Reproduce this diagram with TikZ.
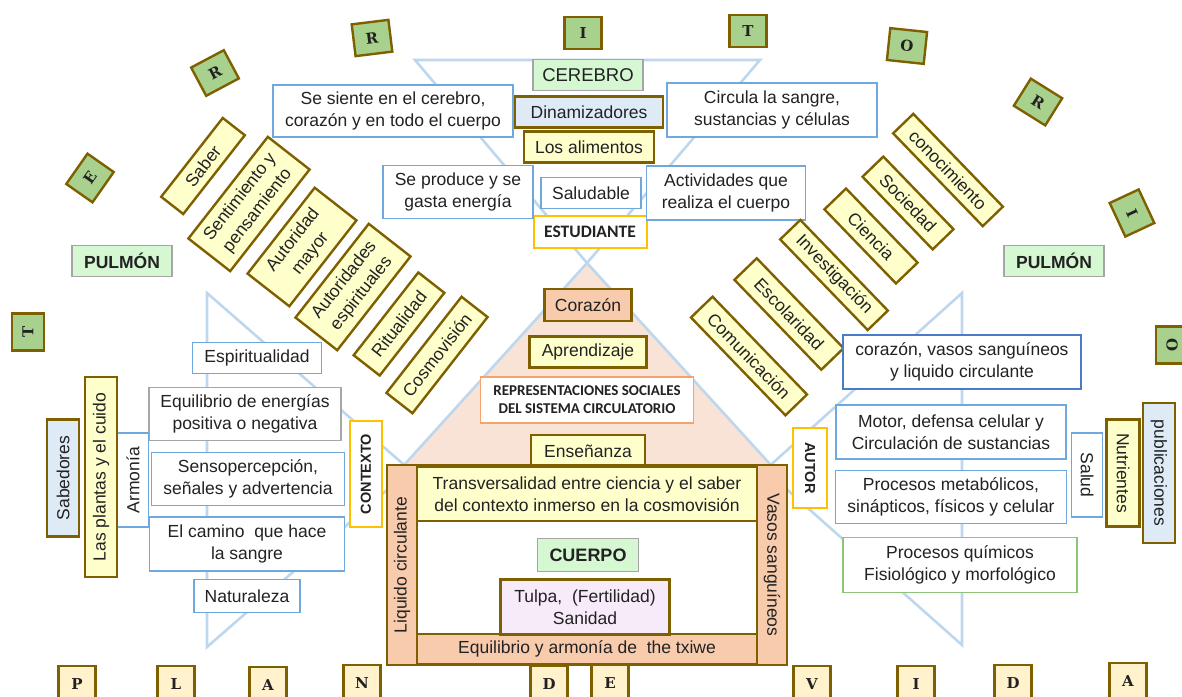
\documentclass[tikz,border=0pt]{standalone}
\usepackage{fontspec}
\setmainfont{Liberation Sans}
\newfontfamily\calfont{Carlito}
\newfontfamily\letterfont{DejaVu Serif}
\definecolor{olive}{HTML}{7F6000}
\definecolor{lgreen}{HTML}{A9D18E}
\definecolor{mint}{HTML}{D5F7D2}
\definecolor{cream}{HTML}{FFFFCC}
\definecolor{cream2}{HTML}{FFF2CC}
\definecolor{lblue}{HTML}{DEEBF7}
\definecolor{orng}{HTML}{F8CBAD}
\definecolor{gold}{HTML}{FFC000}
\definecolor{bbord}{HTML}{6FA8DC}
\definecolor{darkb}{HTML}{4A7BC8}
\definecolor{tri}{HTML}{BDD7EE}
\definecolor{pinkf}{HTML}{F9E2D6}
\definecolor{lav}{HTML}{F7EAF9}
\definecolor{gbord}{HTML}{A6A6A6}
\definecolor{grn}{HTML}{8CC57A}
\definecolor{repb}{HTML}{F4A36F}
\definecolor{txt}{HTML}{222222}
\begin{document}
\begin{tikzpicture}[x=1pt,y=-1pt,
  every node/.style={text=txt},
  base/.style={draw, inner sep=0pt, align=center, font=\fontsize{17.5}{22}\selectfont},
  olivebox/.style={base, draw=olive, line width=2.4pt},
  bluebox/.style={base, draw=bbord, line width=1.2pt, fill=white},
  goldbox/.style={base, draw=gold, line width=2pt, fill=white, font=\bfseries\fontsize{14.5}{16}\selectfont},
  titlebox/.style={base, draw=gbord, line width=1.2pt, fill=mint},
  lettr/.style={draw=olive, line width=2.4pt, fill=lgreen, inner sep=0pt, minimum width=37, minimum height=32, font=\letterfont\bfseries\fontsize{15}{15}\selectfont},
  lettrb/.style={lettr, fill=cream2, minimum height=36},
  tline/.style={draw=tri, line width=2.6pt, line join=miter}
]
\useasboundingbox (0,0) rectangle (1182,696);
% background triangles
\fill[pinkf] (587,263) -- (395,475) -- (780,475) -- cycle;
\draw[tline] (415,60) -- (760,60) -- (587,263) -- cycle;
\draw[tline] (587,263) -- (395,475);
\draw[tline] (587,263) -- (780,475);
\draw[tline] (207,293) -- (207,647) -- (410,470) -- cycle;
\draw[tline] (962,293) -- (962,645) -- (765,470) -- cycle;

% TERRITORIO letters
\node[lettr, rotate=90] (t1) at (28,332) {T};
\node[lettr, rotate=55] (e1) at (90,178) {E};
\node[lettr, rotate=28] (r1) at (215,73) {R};
\node[lettr, rotate=7] (r2) at (372,38) {R};
\node[lettr] (i1) at (583,33) {I};
\node[lettr] (t2) at (748,31) {T};
\node[lettr, rotate=-6] (o1) at (907,46) {O};
\node[lettr, rotate=-32] (r3) at (1038,102) {R};
\node[lettr, rotate=-65] (i2) at (1132,213) {I};
\node[lettr, rotate=-90] (o2) at (1172,345) {O};

% PLANDEVIDA letters
\node[lettrb] (bp) at (77,684) {P};
\node[lettrb] (bl) at (176,684) {L};
\node[lettrb] (ba) at (268,685) {A};
\node[lettrb] (bn) at (362,683) {N};
\node[lettrb] (bd) at (549,684) {D};
\node[lettrb] (be) at (610,683) {E};
\node[lettrb] (bv) at (812,684) {V};
\node[lettrb] (bi) at (916,684) {I};
\node[lettrb] (bd2) at (1013,683) {D};
\node[lettrb] (ba2) at (1128,681) {A};

% top column
\node[titlebox, minimum width=110, minimum height=31, font=\fontsize{18.5}{20}\selectfont] (cerebro) at (588,75) {CEREBRO};
\node[olivebox, fill=lblue, minimum width=148, minimum height=31] (dinam) at (589,112) {Dinamizadores};
\node[olivebox, fill=cream, minimum width=130, minimum height=31] (alim) at (589,147) {Los alimentos};
\node[bluebox, minimum width=100, minimum height=31] (salud1) at (591,193) {Saludable};
\node[goldbox, minimum width=113, minimum height=32, font=\calfont\bfseries\fontsize{17.5}{19}\selectfont] (estud) at (590,232) {ESTUDIANTE};
\node[bluebox, minimum width=240, minimum height=52] (siente) at (393,111) {Se siente en el cerebro,\\corazón y en todo el cuerpo};
\node[bluebox, minimum width=210, minimum height=54] (circula) at (772,110) {Circula la sangre,\\sustancias y células};
\node[bluebox, minimum width=150, minimum height=53] (produce) at (458,192) {Se produce y se\\gasta energía};
\node[bluebox, minimum width=159, minimum height=54] (activ) at (726,193) {Actividades que\\realiza el cuerpo};

% PULMON
\node[titlebox, minimum width=100, minimum height=31, font=\bfseries\fontsize{17.5}{19}\selectfont] (pulL) at (122,261) {PULMÓN};
\node[titlebox, minimum width=100, minimum height=31, font=\bfseries\fontsize{17.5}{19}\selectfont] (pulR) at (1054,261) {PULMÓN};

% left tilted
\node[olivebox, fill=cream, rotate=52, minimum width=100, minimum height=28] (saber) at (203,166) {Saber};
\node[olivebox, fill=cream, rotate=52, minimum width=129, minimum height=53] (sent) at (249,204) {Sentimiento y\\pensamiento};
\node[olivebox, fill=cream, rotate=52, minimum width=109, minimum height=53] (autm) at (302,247) {Autoridad\\mayor};
\node[olivebox, fill=cream, rotate=52, minimum width=119, minimum height=53] (autesp) at (353,287) {Autoridades\\espirituales};
\node[olivebox, fill=cream, rotate=52, minimum width=105, minimum height=33] (ritual) at (399,324) {Ritualidad};
\node[olivebox, fill=cream, rotate=52, minimum width=122, minimum height=33] (cosmo) at (437,355) {Cosmovisión};

% right tilted
\node[olivebox, fill=cream, rotate=-46, minimum width=129, minimum height=28] (conoc) at (948,170) {conocimiento};
\node[olivebox, fill=cream, rotate=-46, minimum width=101, minimum height=29] (soc) at (908,203) {Sociedad};
\node[olivebox, fill=cream, rotate=-46, minimum width=103, minimum height=30] (cien) at (871,236) {Ciencia};
\node[olivebox, fill=cream, rotate=-46, minimum width=126, minimum height=28] (inv) at (834,275) {Investigación};
\node[olivebox, fill=cream, rotate=-46, minimum width=125, minimum height=31] (esc) at (789,314) {Escolaridad};
\node[olivebox, fill=cream, rotate=-46, minimum width=136, minimum height=30] (com) at (749,356) {Comunicación};

% centre triangle
\node[olivebox, fill=orng, minimum width=87, minimum height=32] (cor) at (588,305) {Corazón};
\node[olivebox, fill=cream, minimum width=117, minimum height=31] (apr) at (588,352) {Aprendizaje};
\node[base, draw=repb, line width=1.4pt, fill=white, minimum width=213, minimum height=46, font=\calfont\bfseries\fontsize{15}{18}\selectfont] (repr) at (587,400) {REPRESENTACIONES SOCIALES\\DEL SISTEMA CIRCULATORIO};
\node[olivebox, fill=cream, minimum width=114, minimum height=32] (ens) at (588,451) {Enseñanza};

% body frame
\node[olivebox, fill=white, minimum width=400, minimum height=200] (frame) at (587,565) {};
\node[olivebox, fill=orng, rotate=90, minimum width=200, minimum height=30] (liq) at (402,565) {Liquido circulante};
\node[olivebox, fill=orng, rotate=-90, minimum width=200, minimum height=30] (vasos) at (772,565) {Vasos sanguíneos};
\node[olivebox, fill=cream, minimum width=340, minimum height=54] (transv) at (587,494) {Transversalidad entre ciencia y el saber\\del contexto inmerso en la cosmovisión};
\node[olivebox, fill=orng, minimum width=340, minimum height=30] (equi) at (587,649) {Equilibrio y armonía de\ \ the txiwe};
\node[titlebox, minimum width=101, minimum height=33, font=\bfseries\fontsize{18}{20}\selectfont] (cuerpo) at (588,555) {CUERPO};
\node[olivebox, fill=lav, minimum width=169, minimum height=55] (tulpa) at (585,607) {Tulpa,\ \ (Fertilidad)\\Sanidad};

% left side
\node[goldbox, rotate=90, minimum width=106, minimum height=32] (ctx) at (366,474) {CONTEXTO};
\node[bluebox, minimum width=129, minimum height=31] (espir) at (257,358) {Espiritualidad};
\node[base, draw=gbord, line width=1.2pt, fill=white, minimum width=192, minimum height=53] (equil) at (245,414) {Equilibrio de energías\\positiva o negativa};
\node[bluebox, minimum width=193, minimum height=53] (senso) at (248,479) {Sensopercepción,\\señales y advertencia};
\node[bluebox, minimum width=195, minimum height=54] (camino) at (247,544) {El camino\ \ que hace\\la sangre};
\node[bluebox, minimum width=106, minimum height=33] (natur) at (247,596) {Naturaleza};
\node[bluebox, rotate=90, minimum width=94, minimum height=31] (armon) at (133,480) {Armonía};
\node[olivebox, fill=cream, rotate=90, minimum width=200, minimum height=32] (plant) at (101,477) {Las plantas y el cuido};
\node[olivebox, fill=lblue, rotate=90, minimum width=117, minimum height=32] (sabed) at (63,478) {Sabedores};

% right side
\node[goldbox, rotate=-90, minimum width=80, minimum height=34] (autor) at (810,468) {AUTOR};
\node[base, draw=darkb, line width=1.2pt, fill=white, minimum width=238, minimum height=54] (cvl) at (962,362) {corazón, vasos sanguíneos\\y liquido circulante};
\node[bluebox, minimum width=230, minimum height=54] (motor) at (951,432) {Motor, defensa celular y\\Circulación de sustancias};
\node[bluebox, minimum width=231, minimum height=53] (metab) at (951,497) {Procesos metabólicos,\\sinápticos, físicos y celular};
\node[base, draw=grn, line width=1.2pt, fill=white, minimum width=234, minimum height=55] (quim) at (960,565) {Procesos químicos\\Fisiológico y morfológico};
\node[bluebox, rotate=-90, minimum width=84, minimum height=31] (saludR) at (1087,475) {Salud};
\node[olivebox, fill=cream, rotate=-90, minimum width=107, minimum height=33] (nutr) at (1123,473) {Nutrientes};
\node[olivebox, fill=lblue, rotate=-90, minimum width=140, minimum height=32] (publ) at (1159,473) {publicaciones};
\end{tikzpicture}
\end{document}
